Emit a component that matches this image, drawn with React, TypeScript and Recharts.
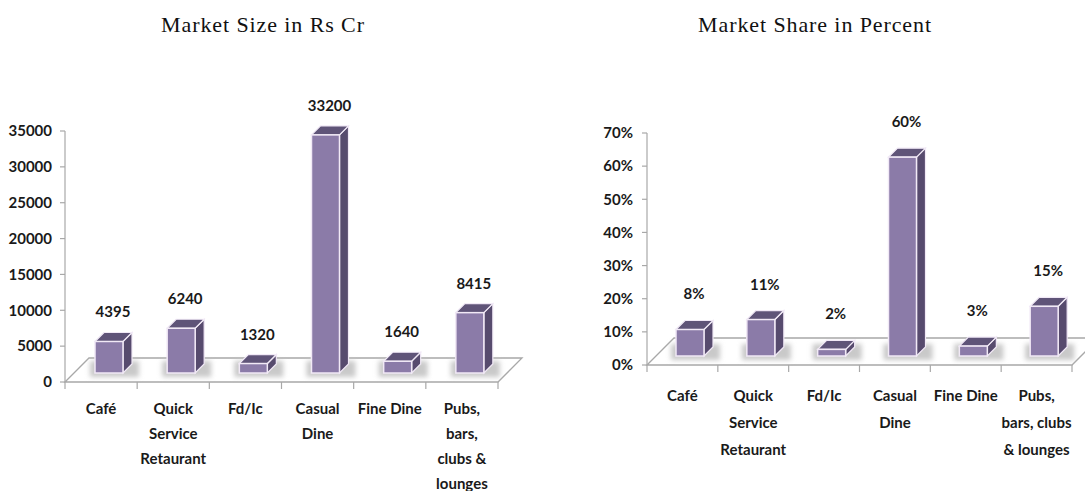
import React from 'react';
import { BarChart, Bar, XAxis, YAxis, ReferenceArea, LabelList } from 'recharts';

const categories = ['Café', 'Quick Service Retaurant', 'Fd/Ic', 'Casual Dine', 'Fine Dine', 'Pubs, bars, clubs & lounges'];
const sizeLabelLines = [['Café'], ['Quick', 'Service', 'Retaurant'], ['Fd/Ic'], ['Casual', 'Dine'], ['Fine Dine'], ['Pubs,', 'bars,', 'clubs &', 'lounges']];
const shareLabelLines = [['Café'], ['Quick', 'Service', 'Retaurant'], ['Fd/Ic'], ['Casual', 'Dine'], ['Fine Dine'], ['Pubs,', 'bars, clubs', '& lounges']];
const marketSize = [4395, 6240, 1320, 33200, 1640, 8415];
const marketShare = [8, 11, 2, 60, 3, 15];
const sizeTicks = [0, 5000, 10000, 15000, 20000, 25000, 30000, 35000];
const shareTicks = [0, 10, 20, 30, 40, 50, 60, 70];

const sizeData = categories.map((name, i) => ({ name, value: marketSize[i] }));
const shareData = categories.map((name, i) => ({ name, value: marketShare[i] }));

const labelFont = "Lato, 'Open Sans', sans-serif";
const labelSize = 15;
const axisColor = '#a8a8a8';
const frontColor = '#8b7ba8';
const topColor = '#5f5478';
const sideColor = '#574b6e';
const edgeColor = '#f1e9f6';

// bars sit a little behind the front edge of the floor
const SHIFT_X = 8;
const SHIFT_Y = 9;
const DEPTH = 9;

function Box3D(props: any) {
  const { x, y, width, height } = props;
  const fx = x + SHIFT_X;
  const fy = y - SHIFT_Y;
  const right = fx + width;
  const bottom = fy + height;
  return (
    <g>
      <rect x={fx - 5} y={bottom - DEPTH - 3} width={width + DEPTH + 12} height={DEPTH + 7} fill="#c9c9c9" filter="url(#softShadow)" />
      <polygon
        points={`${right},${fy} ${right + DEPTH},${fy - DEPTH} ${right + DEPTH},${bottom - DEPTH} ${right},${bottom}`}
        fill={sideColor}
        stroke={edgeColor}
        strokeWidth={1.2}
      />
      <polygon
        points={`${fx},${fy} ${fx + DEPTH},${fy - DEPTH} ${right + DEPTH},${fy - DEPTH} ${right},${fy}`}
        fill={topColor}
        stroke={edgeColor}
        strokeWidth={1.2}
      />
      <rect x={fx} y={fy} width={width} height={height} fill={frontColor} stroke={edgeColor} strokeWidth={1.5} />
    </g>
  );
}

function makeFloor(depth: number) {
  return function Floor(props: any) {
    const { x, y, width, height } = props;
    const yb = y + height;
    return (
      <g>
        <defs>
          <filter id="softShadow" x="-50%" y="-50%" width="200%" height="200%">
            <feGaussianBlur stdDeviation="2.5" />
          </filter>
        </defs>
        <polygon
          points={`${x},${yb} ${x + depth},${yb - depth} ${x + width + depth},${yb - depth} ${x + width},${yb}`}
          fill="#ffffff"
          stroke={axisColor}
          strokeWidth={1.3}
        />
      </g>
    );
  };
}

function makeTick(lines: string[][], firstDy: number, lineGap: number, halfBand: number) {
  return function CategoryTick(props: any) {
    const { x, y, index, payload } = props;
    const half = payload && typeof payload.offset === 'number' && payload.offset > 0 ? payload.offset : halfBand;
    const isLast = index === lines.length - 1;
    return (
      <g>
        <line x1={x - half} y1={y} x2={x - half} y2={y + 7} stroke={axisColor} strokeWidth={1.2} />
        {isLast && <line x1={x + half} y1={y} x2={x + half} y2={y + 7} stroke={axisColor} strokeWidth={1.2} />}
        <text x={x} y={y} textAnchor="middle" fontFamily={labelFont} fontWeight={700} fontSize={labelSize} fill="#1a1a1a">
          {(lines[index] || []).map((line, i) => (
            <tspan key={i} x={x} y={y + firstDy + i * lineGap} dominantBaseline="central">
              {line}
            </tspan>
          ))}
        </text>
      </g>
    );
  };
}

function makeValueLabel(gap: number, suffix: string) {
  return function ValueLabel(props: any) {
    const { x, y, width, value } = props;
    return (
      <text
        x={x + width / 2 + SHIFT_X + 4}
        y={y - SHIFT_Y - gap}
        textAnchor="middle"
        dominantBaseline="central"
        fontFamily={labelFont}
        fontWeight={700}
        fontSize={labelSize}
        fill="#1a1a1a"
      >
        {`${value}${suffix}`}
      </text>
    );
  };
}

const titleStyle: React.CSSProperties = {
  position: 'absolute',
  top: 12,
  width: 400,
  textAlign: 'center',
  fontFamily: "'Liberation Serif', 'Times New Roman', serif",
  fontSize: 22,
  letterSpacing: 0.9,
  color: '#111',
  lineHeight: '26px',
};

export default function App() {
  return (
    <div style={{ position: 'absolute', left: 0, top: 0, width: 1085, height: 491, overflow: 'hidden', background: '#fff' }}>
      <style>{'.recharts-surface { overflow: visible; }'}</style>
      <div style={{ ...titleStyle, left: 263 - 200 }}>Market Size in Rs Cr</div>
      <div style={{ ...titleStyle, left: 815 - 200 }}>Market Share in Percent</div>

      <div style={{ position: 'absolute', left: 0, top: 0 }}>
        <BarChart width={540} height={491} data={sizeData} margin={{ top: 131, right: 42, left: 0, bottom: 0 }}>
          <ReferenceArea y1={0} y2={35000} shape={makeFloor(24)} fillOpacity={1} />
          <XAxis
            dataKey="name"
            height={109}
            axisLine={false}
            tickLine={false}
            tickSize={0}
            tickMargin={0}
            interval={0}
            tick={makeTick(sizeLabelLines, 26, 25, 433 / 12)}
          />
          <YAxis
            domain={[0, 35000]}
            ticks={sizeTicks}
            width={65}
            axisLine={{ stroke: axisColor, strokeWidth: 1.2 }}
            tickLine={{ stroke: axisColor, strokeWidth: 1.2 }}
            tickSize={5}
            tickMargin={8}
            tick={{ fill: '#1a1a1a', fontSize: labelSize, fontWeight: 700, fontFamily: labelFont }}
          />
          <Bar dataKey="value" barSize={28} shape={Box3D} isAnimationActive={false}>
            <LabelList dataKey="value" content={makeValueLabel(30, '')} />
          </Bar>
        </BarChart>
      </div>

      <div style={{ position: 'absolute', left: 545, top: 0 }}>
        <BarChart width={540} height={491} data={shareData} margin={{ top: 133, right: 13, left: 0, bottom: 0 }}>
          <ReferenceArea y1={0} y2={70} shape={makeFloor(27)} fillOpacity={1} />
          <XAxis
            dataKey="name"
            height={126}
            axisLine={false}
            tickLine={false}
            tickSize={0}
            tickMargin={0}
            interval={0}
            tick={makeTick(shareLabelLines, 30, 27, 425 / 12)}
          />
          <YAxis
            domain={[0, 70]}
            ticks={shareTicks}
            width={102}
            axisLine={{ stroke: axisColor, strokeWidth: 1.2 }}
            tickLine={{ stroke: axisColor, strokeWidth: 1.2 }}
            tickSize={5}
            tickMargin={9}
            tickFormatter={(v: number) => `${v}%`}
            tick={{ fill: '#1a1a1a', fontSize: labelSize, fontWeight: 700, fontFamily: labelFont }}
          />
          <Bar dataKey="value" barSize={28} shape={Box3D} isAnimationActive={false}>
            <LabelList dataKey="value" content={makeValueLabel(36, '%')} />
          </Bar>
        </BarChart>
      </div>
    </div>
  );
}
